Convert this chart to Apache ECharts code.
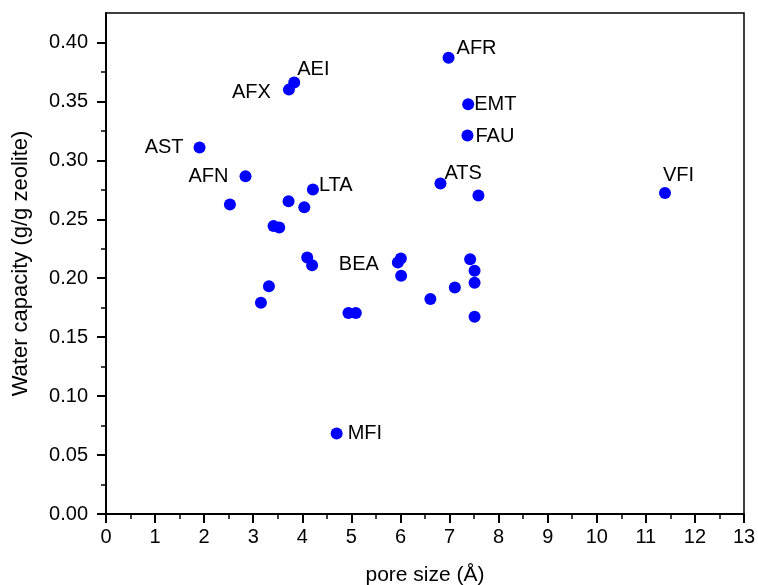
<!DOCTYPE html>
<html>
<head>
<meta charset="utf-8">
<script src="https://cdn.jsdelivr.net/npm/echarts@6/dist/echarts.min.js"></script>
<style>
  html, body { margin: 0; padding: 0; background: #fff; overflow: hidden; }
  #chart { width: 758px; height: 585px; }
</style>
</head>
<body>
<div id="chart"></div>
<script>
// pore size (Å) / water capacity (g/g zeolite), label '' = no label
const poreSize = [6.98, 3.835, 3.727, 7.38, 7.365, 1.906, 2.843, 11.39, 6.815, 4.216,
  7.589, 2.525, 3.72, 4.04, 3.414, 3.53, 4.10, 4.20, 6.008, 5.947,
  6.014, 7.42, 7.51, 7.51, 7.108, 6.61, 7.51, 3.32, 3.157, 4.94,
  5.09, 4.70]
const waterCap = [0.387, 0.366, 0.360, 0.3475, 0.321, 0.311, 0.2865, 0.2724, 0.2803, 0.2752,
  0.2701, 0.2625, 0.2653, 0.2602, 0.2444, 0.2430, 0.2176, 0.2111, 0.2168, 0.2134,
  0.2021, 0.2162, 0.2063, 0.1961, 0.1922, 0.1823, 0.1674, 0.1933, 0.1792, 0.1705,
  0.1705, 0.0683]
const names = ['AFR', 'AEI', 'AFX', 'EMT', 'FAU', 'AST', 'AFN', 'VFI', 'ATS', 'LTA',
  '', '', '', '', '', '', '', '', '', 'BEA',
  '', '', '', '', '', '', '', '', '', '',
  '', 'MFI']
const yTicks = [0, 0.05, 0.10, 0.15, 0.20, 0.25, 0.30, 0.35, 0.40]
const yMinorTicks = [0.025, 0.075, 0.125, 0.175, 0.225, 0.275, 0.325, 0.375]

// where each label sits next to its dot
const labelPos = {
  AFR: { position: 'right', distance: 2, offset: [0, -9] },
  AEI: { position: 'right', distance: 0, offset: [-3, -13] },
  AFX: { position: 'left', distance: 12, offset: [0, 3] },
  EMT: { position: 'right', distance: 0, offset: [0, 0] },
  FAU: { position: 'right', distance: 2, offset: [0, 1] },
  AST: { position: 'left', distance: 10, offset: [0, 0] },
  AFN: { position: 'left', distance: 11, offset: [0, 0] },
  VFI: { position: 'right', distance: 0, offset: [-8, -17] },
  ATS: { position: 'right', distance: 0, offset: [-2, -10] },
  LTA: { position: 'right', distance: 0, offset: [0, -4] },
  BEA: { position: 'left', distance: 13, offset: [0, 2] },
  MFI: { position: 'right', distance: 5, offset: [0, 0] }
}

const font = 'Liberation Sans, Arial, sans-serif'
const points = poreSize.map((x, i) => {
  const item = { value: [x, waterCap[i]] }
  const lp = labelPos[names[i]]
  if (names[i] && lp) {
    item.label = {
      show: true,
      formatter: names[i],
      position: lp.position,
      distance: lp.distance,
      offset: lp.offset
    }
  }
  return item
})

const mChart = echarts.init(document.getElementById('chart'), null, { width: 758, height: 585 })
const option = {
  animation: false,
  backgroundColor: '#fff',
  grid: {
    left: 106,
    right: 14,
    top: 13,
    bottom: 71,
    // keep the plot box where it is, labels may go near the edge
    outerBoundsMode: 'none',
    show: true,
    borderColor: '#000',
    borderWidth: 1.5
  },
  xAxis: {
    type: 'value',
    min: 0,
    max: 13,
    interval: 1,
    name: 'pore size (Å)',
    nameLocation: 'middle',
    nameGap: 51,
    nameTextStyle: { color: '#000', fontSize: 21, fontFamily: font },
    axisLine: { show: true, onZero: false, lineStyle: { color: '#000', width: 2 } },
    axisTick: { show: true, inside: false, length: 9, lineStyle: { color: '#000', width: 2 } },
    minorTick: { show: true, splitNumber: 2, length: 5, lineStyle: { color: '#000', width: 1.5 } },
    axisLabel: { color: '#000', fontSize: 20, fontFamily: font, margin: 13 },
    splitLine: { show: false }
  },
  yAxis: [
    {
      type: 'value',
      min: 0,
      max: 0.425,
      name: 'Water capacity (g/g zeolite)',
      nameLocation: 'middle',
      nameGap: 74,
      nameTextStyle: { color: '#000', fontSize: 22, fontFamily: font },
      axisLine: { show: true, onZero: false, lineStyle: { color: '#000', width: 2 } },
      axisTick: { show: true, length: 9, customValues: yTicks, lineStyle: { color: '#000', width: 2 } },
      axisLabel: {
        color: '#000', fontSize: 20, fontFamily: font, margin: 18,
        customValues: yTicks,
        formatter: v => v.toFixed(2)
      },
      splitLine: { show: false }
    },
    {
      // second copy of the y axis, only for the short minor ticks
      type: 'value',
      position: 'left',
      min: 0,
      max: 0.425,
      axisLine: { show: false },
      axisTick: { show: true, length: 5, customValues: yMinorTicks, lineStyle: { color: '#000', width: 1.5 } },
      axisLabel: { show: false, customValues: yMinorTicks },
      splitLine: { show: false }
    }
  ],
  series: [
    {
      type: 'scatter',
      data: points,
      symbol: 'circle',
      symbolSize: 12,
      itemStyle: { color: '#0000FF', opacity: 1 },
      label: { color: '#000', fontSize: 20, fontFamily: font },
      emphasis: { disabled: true }
    }
  ]
}
mChart.setOption(option)
</script>
</body>
</html>
